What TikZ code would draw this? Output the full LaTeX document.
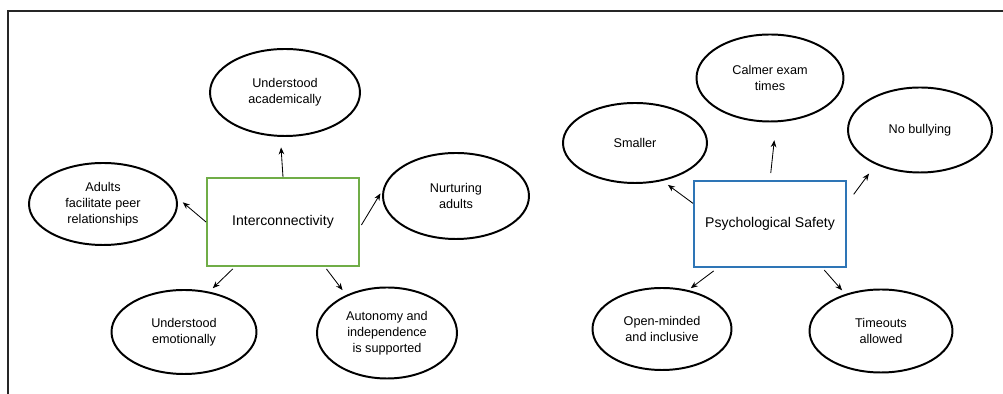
\documentclass[tikz,border=0pt]{standalone}
\usepackage{fontspec}
\setmainfont{Liberation Sans}
\usetikzlibrary{shapes.geometric,arrows.meta}
\definecolor{themegreen}{HTML}{70AD47}
\definecolor{themeblue}{HTML}{2E75B6}
\tikzset{bubble/.style={draw=black,ellipse,line width=1.4pt,inner sep=0pt,align=center,font=\fontsize{9}{11.5}\selectfont}}
\tikzset{themebox/.style={draw,rectangle,line width=1.4pt,inner sep=0pt,font=\fontsize{10}{12}\selectfont}}
\tikzset{link/.style={-{Stealth[length=5pt,width=4pt]},line width=0.6pt,black}}

\begin{document}
\begin{tikzpicture}
\useasboundingbox (0,0) rectangle (25.075,9.85);

% Frame
\draw[line width=1.1pt,black!85] (0.2,0) -- (0.2,9.575) -- (25.075,9.575);

% Theme boxes
\node[themebox,draw=themegreen,minimum width=3.8cm,minimum height=2.2cm] (inter) at (7.075,4.3) {Interconnectivity};
\node[themebox,draw=themeblue,minimum width=3.8cm,minimum height=2.15cm] (psych) at (19.25,4.25) {Psychological Safety};

% Interconnectivity bubbles
\node[bubble,minimum width=3.75cm,minimum height=2.175cm] (acad) at (7.125,7.5375) {Understood\\academically};
\node[bubble,minimum width=3.7cm,minimum height=2.05cm] (adults) at (2.575,4.75) {Adults\\facilitate peer\\relationships};
\node[bubble,minimum width=3.65cm,minimum height=2.15cm] (nurture) at (11.4,4.95) {Nurturing\\adults};
\node[bubble,minimum width=3.625cm,minimum height=2.1cm] (emotion) at (4.6,1.55) {Understood\\emotionally};
\node[bubble,minimum width=3.5cm,minimum height=2.275cm] (autonomy) at (9.675,1.525) {Autonomy and\\independence\\is supported};

% Psychological Safety bubbles
\node[bubble,minimum width=3.6cm,minimum height=2.0cm] (smaller) at (15.875,6.275) {Smaller};
\node[bubble,minimum width=3.675cm,minimum height=2.175cm] (calmer) at (19.25,7.9) {Calmer exam\\times};
\node[bubble,minimum width=3.6cm,minimum height=2.125cm] (nobully) at (23.0,6.6) {No bullying};
\node[bubble,minimum width=3.475cm,minimum height=2.05cm] (open) at (16.55,1.625) {Open-minded\\and inclusive};
\node[bubble,minimum width=3.575cm,minimum height=2.075cm] (timeouts) at (22.025,1.575) {Timeouts\\allowed};

% Arrows left
\draw[link,shorten >=7.5pt] (inter.north) -- (acad.-96);
\draw[link,shorten >=5.3pt] (inter.west) -- (adults.5);
\draw[link,shorten <=2pt,shorten >=3.2pt] (inter.-4) -- (nurture.175);
\draw[link,shorten <=2pt,shorten >=3.5pt] (inter.-137) -- (emotion.58);
\draw[link,shorten <=1.8pt,shorten >=4.3pt] (inter.-47) -- (autonomy.137);

% Arrows right
\draw[link,shorten <=5pt,shorten >=12.8pt] (psych.north) -- (calmer.-82);
\draw[link,shorten >=4.7pt] (psych.165) -- (smaller.-54);
\draw[link,shorten <=8pt,shorten >=8pt] (psych.15) -- (nobully.218);
\draw[link,shorten <=3.5pt,shorten >=2.2pt] (psych.-140) -- (open.56);
\draw[link,shorten <=2pt,shorten >=3.5pt] (psych.-40) -- (timeouts.134);

\end{tikzpicture}
\end{document}
